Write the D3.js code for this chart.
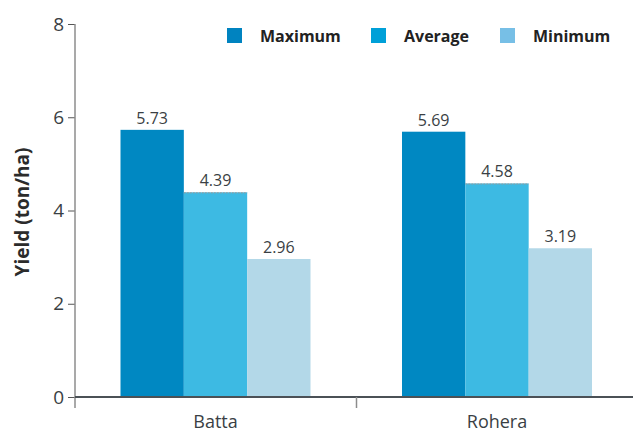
<!DOCTYPE html>
<html>
<head>
<meta charset="utf-8">
<script src="https://cdn.jsdelivr.net/npm/d3@7"></script>
<style>
  html, body { margin: 0; padding: 0; background: #fff; }
  svg { display: block; font-family: "Open Sans", "Noto Sans", sans-serif; }
</style>
</head>
<body>
<svg id="chart" width="633" height="432"></svg>
<script>
// Yield by location and statistic
const categories = ["Batta", "Rohera"];
const seriesNames = ["Maximum", "Average", "Minimum"];
const maximumValues = [5.73, 5.69];
const averageValues = [4.39, 4.58];
const minimumValues = [2.96, 3.19];
const yTicks = [0, 2, 4, 6, 8];

const barColors = ["#0088c2", "#3dbae3", "#b3d8e8"];
const legendColors = ["#0083c0", "#00a0d8", "#77bfe6"];

const seriesValues = [maximumValues, averageValues, minimumValues];
const rows = categories.map((c, i) => ({
  category: c,
  values: seriesNames.map((s, j) => ({ series: s, value: seriesValues[j][i], idx: j }))
}));

const svg = d3.select("#chart");
const axisX = 75, baseY = 397, topY = 24;

const y = d3.scaleLinear().domain([0, 8]).range([baseY, topY]);
const x0 = d3.scaleBand().domain(categories).range([axisX, 638]).padding(0);
const x1 = d3.scaleBand().domain(seriesNames).range([45.5, 235.5]).padding(0);

// bars
const groups = svg.append("g").selectAll("g").data(rows).join("g")
  .attr("transform", d => `translate(${x0(d.category)},0)`);

groups.selectAll("rect").data(d => d.values).join("rect")
  .attr("x", d => x1(d.series))
  .attr("y", d => y(d.value))
  .attr("width", x1.bandwidth())
  .attr("height", d => baseY - y(d.value))
  .attr("fill", d => barColors[d.idx]);

// thin dotted cap on the average bars
groups.selectAll("line.cap").data(d => d.values.filter(v => v.series === "Average")).join("line")
  .attr("class", "cap")
  .attr("x1", d => x1(d.series))
  .attr("x2", d => x1(d.series) + x1.bandwidth())
  .attr("y1", d => y(d.value) + 0.5)
  .attr("y2", d => y(d.value) + 0.5)
  .attr("stroke", "#9a9a9a")
  .attr("stroke-width", 1)
  .attr("stroke-dasharray", "2,1");

// value labels
groups.selectAll("text").data(d => d.values).join("text")
  .attr("x", d => x1(d.series) + x1.bandwidth() / 2)
  .attr("y", d => y(d.value) - 6)
  .attr("text-anchor", "middle")
  .attr("font-size", 16)
  .attr("fill", "#3a3f44")
  .text(d => d.value.toFixed(2));

// y axis
const yAxis = d3.axisLeft(y).tickValues(yTicks).tickSize(7).tickPadding(4).tickFormat(d3.format("d"));
const gy = svg.append("g").attr("transform", `translate(${axisX},0)`).call(yAxis);
gy.select(".domain").remove();
gy.selectAll(".tick line").attr("stroke", "#555").attr("stroke-width", 1);
gy.selectAll(".tick text").attr("font-size", 19).attr("fill", "#3a3f44")
  .attr("font-family", "'Open Sans', sans-serif");
svg.append("line")
  .attr("x1", axisX).attr("x2", axisX)
  .attr("y1", topY).attr("y2", 408)
  .attr("stroke", "#8c8c8c").attr("stroke-width", 1.5);

// x axis
svg.append("line")
  .attr("x1", axisX).attr("x2", 633)
  .attr("y1", baseY).attr("y2", baseY)
  .attr("stroke", "#4b5156").attr("stroke-width", 2);
svg.selectAll("line.sep").data(categories.slice(1)).join("line")
  .attr("class", "sep")
  .attr("x1", d => x0(d)).attr("x2", d => x0(d))
  .attr("y1", baseY).attr("y2", 408)
  .attr("stroke", "#8c8c8c").attr("stroke-width", 1.5);
svg.selectAll("text.cat").data(categories).join("text")
  .attr("class", "cat")
  .attr("x", d => x0(d) + x1(seriesNames[1]) + x1.bandwidth() / 2)
  .attr("y", 428)
  .attr("text-anchor", "middle")
  .attr("font-size", 18)
  .attr("fill", "#3a3f44")
  .text(d => d);

// y axis title
svg.append("text")
  .attr("transform", "translate(29,212) rotate(-90)")
  .attr("text-anchor", "middle")
  .attr("font-size", 19)
  .attr("font-weight", "bold")
  .attr("fill", "#2b2b2b")
  .text("Yield (ton/ha)");

// legend
const legendX = [227, 371, 500];
const legend = svg.append("g").selectAll("g").data(seriesNames).join("g")
  .attr("transform", (d, i) => `translate(${legendX[i]},28)`);
legend.append("rect")
  .attr("width", 15).attr("height", 15)
  .attr("fill", (d, i) => legendColors[i]);
legend.append("text")
  .attr("x", 33).attr("y", 14)
  .attr("font-size", 16)
  .attr("font-weight", "bold")
  .attr("fill", "#222")
  .text(d => d);
</script>
</body>
</html>
